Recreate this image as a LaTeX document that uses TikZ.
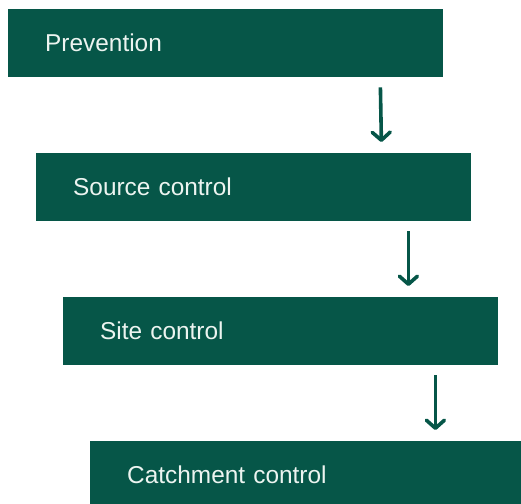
\documentclass[tikz,border=0pt]{standalone}
\usepackage{fontspec}
\setmainfont{Liberation Sans}
\usetikzlibrary{arrows.meta}
\definecolor{stepgreen}{RGB}{6,86,72}
\definecolor{steptext}{RGB}{236,244,240}
\begin{document}
\begin{tikzpicture}[x=1pt,y=-1pt,
  stepbox/.style={fill=stepgreen, draw=none, anchor=north west,
    minimum width=435pt, minimum height=68pt, inner xsep=37pt,
    text=steptext, font=\fontsize{24.4}{28}\selectfont, align=left,
    text width=361pt},
  flow/.style={draw=stepgreen, line width=3.6pt,
    -{Straight Barb[length=8pt,width=18pt,round]}}]
\useasboundingbox (0,0) rectangle (521,503);
\clip (0,0) rectangle (521,503);
\node[stepbox] (b1) at (8,9)   {Prevention};
\node[stepbox] (b2) at (36,153) {Source control};
\node[stepbox] (b3) at (63,297) {Site control};
\node[stepbox] (b4) at (90,441) {Catchment control};
\draw[flow] ([xshift=-63pt,yshift=-10pt]b1.south east) -- ([xshift=-90pt,yshift=11pt]b2.north east);
\draw[flow] ([xshift=-63pt,yshift=-10pt]b2.south east) -- ([xshift=-90pt,yshift=11pt]b3.north east);
\draw[flow] ([xshift=-63pt,yshift=-10pt]b3.south east) -- ([xshift=-90pt,yshift=11pt]b4.north east);
\end{tikzpicture}
\end{document}
